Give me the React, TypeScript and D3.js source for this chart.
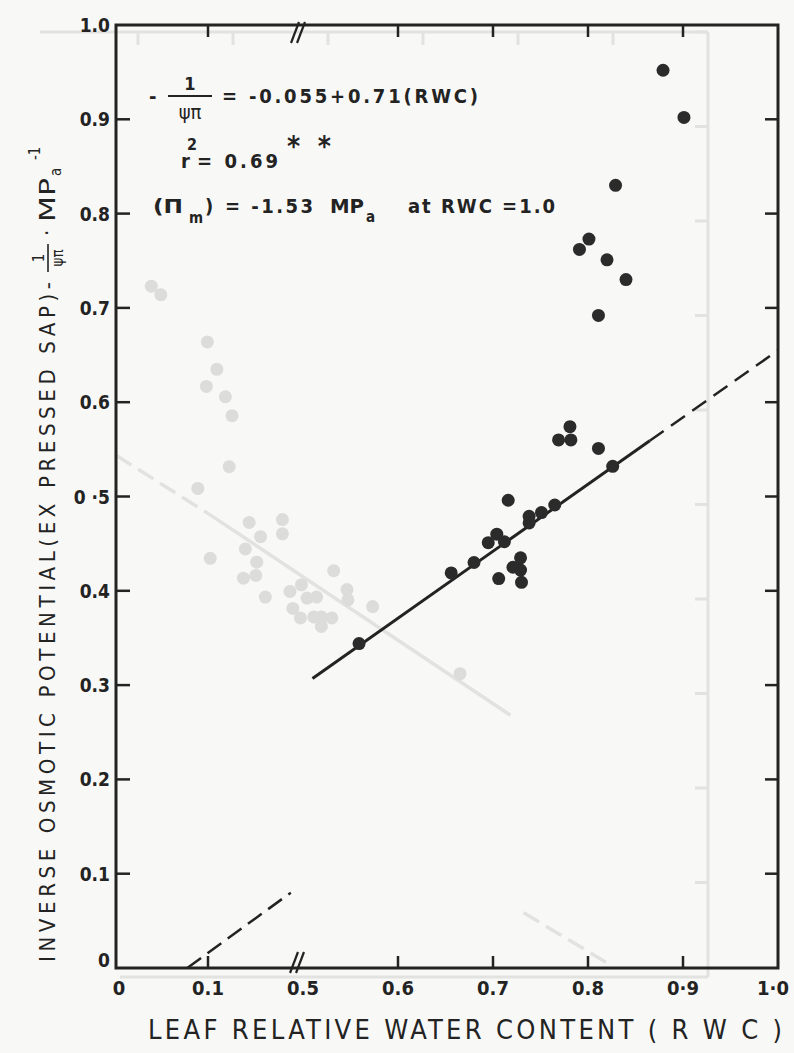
import React from 'react';
import * as d3 from 'd3';

const W = 794;
const H = 1053;

// axis ticks
const X_TICKS = [0, 0.1, 0.5, 0.6, 0.7, 0.8, 0.9, 1.0];
const X_LABELS = ['0', '0.1', '0.5', '0.6', '0.7', '0.8', '0·9', '1·0'];
const X_TICK_MARKS = [0.1, 0.6, 0.7, 0.8, 0.9];
const Y_TICKS = [0, 0.1, 0.2, 0.3, 0.4, 0.5, 0.6, 0.7, 0.8, 0.9, 1.0];
const Y_LABELS = ['0', '0.1', '0.2', '0.3', '0.4', '0 ·5', '0.6', '0.7', '0.8', '0.9', '1.0'];

// observed points (RWC, inverse osmotic potential)
const RWC = [
  0.879, 0.901, 0.829, 0.801, 0.791, 0.820, 0.840, 0.811,
  0.559, 0.656, 0.680, 0.695, 0.704, 0.712, 0.716, 0.706,
  0.721, 0.729, 0.729, 0.730, 0.738, 0.738, 0.751, 0.765,
  0.769, 0.782, 0.781, 0.811, 0.826,
];
const INV_OSM = [
  0.952, 0.902, 0.830, 0.773, 0.762, 0.751, 0.730, 0.692,
  0.344, 0.419, 0.430, 0.451, 0.460, 0.452, 0.496, 0.413,
  0.425, 0.435, 0.422, 0.409, 0.479, 0.472, 0.483, 0.491,
  0.560, 0.560, 0.574, 0.551, 0.532,
];

// fitted line: -1/psi = a + b * RWC
const FIT_A = -0.055;
const FIT_B = 0.71;
const FIT_SOLID = [0.51, 0.865];
const FIT_DASHED = [0.865, 1.0];
const FIT_LOW_DASHED = [0.0775, 0.19];

// show-through from the reverse side of the page (own mirrored frame)
const GHOST_X = [
  0.586, 0.576, 0.527, 0.517, 0.528, 0.508, 0.501, 0.504, 0.537, 0.483,
  0.448, 0.448, 0.471, 0.487, 0.524, 0.475, 0.476, 0.489, 0.394, 0.466,
  0.440, 0.428, 0.422, 0.412, 0.437, 0.429, 0.415, 0.407, 0.396, 0.407,
  0.380, 0.379, 0.353, 0.261,
];
const GHOST_Y = [
  0.731, 0.722, 0.672, 0.643, 0.625, 0.614, 0.594, 0.540, 0.517, 0.481,
  0.484, 0.469, 0.466, 0.453, 0.443, 0.439, 0.425, 0.422, 0.430, 0.402,
  0.408, 0.415, 0.401, 0.402, 0.390, 0.380, 0.381, 0.381, 0.380, 0.371,
  0.410, 0.399, 0.392, 0.321,
];
const GHOST_LINE_DASHED = [[0.623, 0.552], [0.524, 0.489]];
const GHOST_LINE_SOLID = [[0.524, 0.489], [0.208, 0.277]];
const GHOST_LOW_DASHED = [[0.194, 0.068], [0.103, 0.013]];
const GHOST_TICKS = [0.1, 0.2, 0.3, 0.4, 0.5, 0.6, 0.7, 0.8, 0.9, 1.0];

const INK = '#232323';
const GHOST = '#e2e2e0';
const FONT = '"DejaVu Sans Condensed", "DejaVu Sans", sans-serif';

export default function App() {
  const x = d3.scaleLinear().domain([0, 0.1, 0.5, 1.0]).range([116, 208, 303, 778]);
  const xLow = d3.scaleLinear().domain([0, 0.1]).range([116, 208]);
  const y = d3.scaleLinear().domain([0, 1]).range([968, 25]);
  const gx = d3.scaleLinear().domain([0, 1]).range([708, -242]);
  const gy = d3.scaleLinear().domain([0, 1]).range([977, 32]);

  const fit = (v: number) => FIT_A + FIT_B * v;
  const mainLine = d3.line<number>().x(v => x(v)).y(v => y(fit(v)));
  const lowLine = d3.line<number>().x(v => xLow(v)).y(v => y(fit(v)));
  const ghostLine = d3.line<number[]>().x(d => gx(d[0])).y(d => gy(d[1]));

  const x0 = x(0);
  const x1 = x(1);
  const yTop = y(1);
  const yBot = y(0);

  const brk = (cx: number, cy: number) => (
    <g stroke={INK} strokeWidth={2.2}>
      <line x1={cx - 7} y1={cy + 11} x2={cx + 1} y2={cy - 10} />
      <line x1={cx - 1} y1={cy + 11} x2={cx + 7} y2={cy - 10} />
    </g>
  );

  return (
    <svg width={W} height={H} style={{ position: 'absolute', left: 0, top: 0 }} fontFamily={FONT}>
      <rect width={W} height={H} fill="#f8f8f6" />

      {/* reverse-side show-through */}
      <g>
        <line x1={gx(0)} x2={gx(0)} y1={gy(1)} y2={gy(0)} stroke={GHOST} strokeWidth={3} />
        <line x1={40} x2={gx(0)} y1={gy(1)} y2={gy(1)} stroke={GHOST} strokeWidth={3} />
        <line x1={120} x2={gx(0)} y1={gy(0)} y2={gy(0)} stroke={GHOST} strokeWidth={3} />
        {GHOST_TICKS.map(t => (
          <line key={'gt' + t} x1={gx(0) - 13} x2={gx(0)} y1={gy(t)} y2={gy(t)} stroke={GHOST} strokeWidth={3} />
        ))}
        {GHOST_TICKS.slice(0, 6).map(t => (
          <line key={'gxt' + t} x1={gx(t)} x2={gx(t)} y1={gy(1)} y2={gy(1) + 13} stroke={GHOST} strokeWidth={3} />
        ))}
        <path d={ghostLine(GHOST_LINE_DASHED) || ''} stroke={GHOST} strokeWidth={3.5} strokeDasharray="18 8" fill="none" />
        <path d={ghostLine(GHOST_LINE_SOLID) || ''} stroke={GHOST} strokeWidth={3.5} fill="none" />
        <path d={ghostLine(GHOST_LOW_DASHED) || ''} stroke={GHOST} strokeWidth={3.5} strokeDasharray="18 8" fill="none" />
        {GHOST_X.map((v, i) => (
          <circle key={'g' + i} cx={gx(v)} cy={gy(GHOST_Y[i])} r={6.5} fill="#dcdcda" />
        ))}
      </g>

      {/* frame */}
      <rect x={x0} y={yTop} width={x1 - x0} height={yBot - yTop} stroke={INK} strokeWidth={3} fill="none" />
      {brk(297, 962)}
      {brk(298, 32)}

      {/* ticks */}
      <g stroke={INK} strokeWidth={2.5}>
        {X_TICK_MARKS.map(t => (
          <g key={'xt' + t}>
            <line x1={x(t)} x2={x(t)} y1={yBot} y2={yBot - 12} />
            <line x1={x(t)} x2={x(t)} y1={yTop} y2={yTop + 12} />
          </g>
        ))}
        {Y_TICKS.slice(1, 10).map(t => (
          <g key={'yt' + t}>
            <line x1={x0} x2={x0 + 14} y1={y(t)} y2={y(t)} />
            <line x1={x1} x2={x1 - 13} y1={y(t)} y2={y(t)} />
          </g>
        ))}
      </g>

      {/* tick labels */}
      <g fontSize={20} fontWeight="bold" fill={INK} textAnchor="middle">
        {X_TICKS.map((t, i) => (
          <text key={'xl' + t} x={x(t) + (t === 0 ? 3 : t === 1 ? -5 : 0)} y={995}>{X_LABELS[i]}</text>
        ))}
      </g>
      <g fontSize={19} fontWeight="bold" fill={INK} textAnchor="end">
        {Y_TICKS.map((t, i) => (
          <text key={'yl' + t} x={110} y={t === 0 ? 967 : y(t) + 7}>{Y_LABELS[i]}</text>
        ))}
      </g>

      {/* fitted line */}
      <path d={mainLine(FIT_SOLID) || ''} stroke={INK} strokeWidth={3} fill="none" />
      <path d={mainLine(FIT_DASHED) || ''} stroke={INK} strokeWidth={2.5} strokeDasharray="17 9" fill="none" />
      <path d={lowLine(FIT_LOW_DASHED) || ''} stroke={INK} strokeWidth={2.5} strokeDasharray="17 8" fill="none" />

      {/* points */}
      {RWC.map((v, i) => (
        <circle key={'p' + i} cx={x(v)} cy={y(INV_OSM[i])} r={6.5} fill="#2b2b2b" />
      ))}

      {/* regression annotation */}
      <g fill={INK} fontSize={20} fontWeight="bold">
        <text x={149} y={103}>-</text>
        <line x1={168} x2={212} y1={96} y2={96} stroke={INK} strokeWidth={2.2} />
        <text x={190} y={90} textAnchor="middle" fontSize={18}>1</text>
        <text x={190} y={119} textAnchor="middle" fontSize={20} fontWeight="normal">ψπ</text>
        <text x={222} y={103} textLength={256} lengthAdjust="spacing">= -0.055+0.71(RWC)</text>

        <text x={181} y={168}>r</text>
        <text x={187} y={150} fontSize={16}>2</text>
        <text x={197} y={168} textLength={81} lengthAdjust="spacing">= 0.69</text>
        <text x={287} y={156} fontSize={28} textLength={44} lengthAdjust="spacing">* *</text>

        <text x={153} y={213} textLength={30} lengthAdjust="spacingAndGlyphs">(Π</text>
        <text x={189} y={223} fontSize={15}>m</text>
        <text x={205} y={213}>)</text>
        <text x={225} y={213} textLength={88} lengthAdjust="spacing">= -1.53</text>
        <text x={330} y={213} textLength={34} lengthAdjust="spacingAndGlyphs">MP</text>
        <text x={366} y={222} fontSize={15}>a</text>
        <text x={408} y={213} textLength={147} lengthAdjust="spacing">at RWC =1.0</text>
      </g>

      {/* x axis title */}
      <text x={148} y={1039} fontSize={27} fill={INK} textLength={634} lengthAdjust="spacing">
        LEAF RELATIVE WATER CONTENT ( R W C )
      </text>

      {/* y axis title */}
      <g transform="translate(55, 962) rotate(-90)" fill={INK}>
        <text x={0} y={0} fontSize={22} textLength={680} lengthAdjust="spacing">
          INVERSE OSMOTIC POTENTIAL(EX PRESSED SAP)-
        </text>
        <line x1={690} x2={718} y1={-7} y2={-7} stroke={INK} strokeWidth={1.6} />
        <text x={704} y={-11} fontSize={15} textAnchor="middle">1</text>
        <text x={704} y={8} fontSize={15} textAnchor="middle">ψπ</text>
        <text x={726} y={-1} fontSize={22}>·</text>
        <text x={740} y={0} fontSize={22} textLength={44} lengthAdjust="spacingAndGlyphs">MP</text>
        <text x={786} y={6} fontSize={15}>a</text>
        <text x={802} y={-15} fontSize={15}>-1</text>
      </g>
    </svg>
  );
}
